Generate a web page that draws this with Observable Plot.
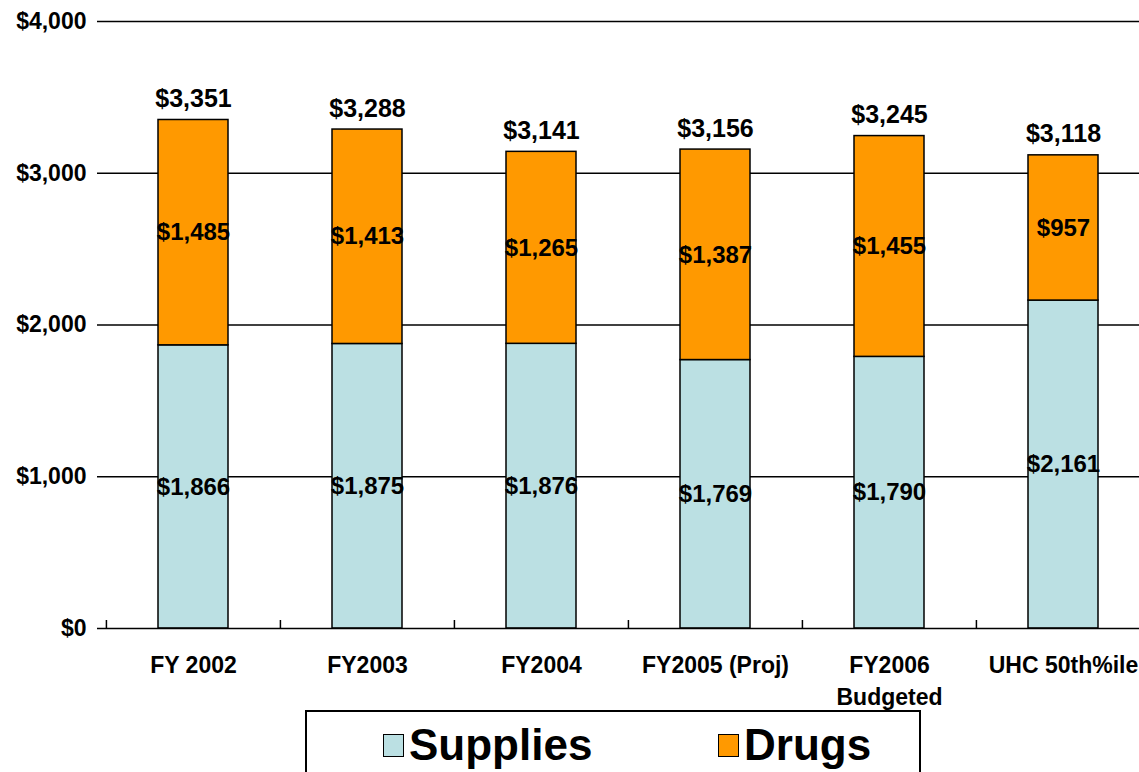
<!DOCTYPE html>
<html>
<head>
<meta charset="utf-8">
<script src="https://cdn.jsdelivr.net/npm/d3@7"></script>
<script src="https://cdn.jsdelivr.net/npm/@observablehq/plot@0.6"></script>
<style>
  html, body { margin: 0; padding: 0; background: #fff; overflow: hidden; }
  body { width: 1139px; height: 772px; position: relative; font-family: "Liberation Sans", Arial, sans-serif; }
  #chart { position: absolute; left: 0; top: 0; width: 1150px; overflow: visible; }
  #chart svg { max-width: none !important; }
  #legend { position: absolute; left: 305px; top: 710px; width: 612px; height: 90px; border: 2px solid #000; background: #fff; }
  .item { position: absolute; top: 8px; font-weight: bold; font-size: 44px; line-height: 50px; display: flex; align-items: center; color: #000; }
  .sw { width: 19px; height: 21px; border: 1.5px solid #000; margin-right: 5px; display: inline-block; }
</style>
</head>
<body>
<div id="chart"></div>
<div id="legend">
  <div class="item" style="left:76px"><span class="sw" style="background:#BBE0E3"></span>Supplies</div>
  <div class="item" style="left:411px"><span class="sw" style="background:#FF9900"></span>Drugs</div>
</div>
<script>
const categories = ["FY 2002", "FY2003", "FY2004", "FY2005 (Proj)", "FY2006\nBudgeted", "UHC 50th%ile"];
const supplies = [1866, 1875, 1876, 1769, 1790, 2161];
const drugs = [1485, 1413, 1265, 1387, 1455, 957];
const totals = [3351, 3288, 3141, 3156, 3245, 3118];
const yTicks = [0, 1000, 2000, 3000, 4000];
const seriesNames = ["Supplies", "Drugs"];
const seriesColors = ["#BBE0E3", "#FF9900"];

const rows = [];
categories.forEach((c, i) => {
  rows.push({cat: c, type: "Supplies", value: supplies[i]});
  rows.push({cat: c, type: "Drugs", value: drugs[i]});
});
const supLabels = categories.map((c, i) => ({cat: c, y: supplies[i] / 2, t: supplies[i]}));
const drugLabels = categories.map((c, i) => ({cat: c, y: supplies[i] + drugs[i] / 2, t: drugs[i]}));
const totLabels = categories.map((c, i) => ({cat: c, y: totals[i], t: totals[i]}));

const fmt = v => "$" + d3.format(",")(v);
const W = 1150, ML = 105, MR = 0;
const step = (W - ML - MR) / categories.length;
const font = "Liberation Sans, Arial, sans-serif";

const chart = Plot.plot({
  width: W,
  height: 705,
  marginLeft: ML,
  marginRight: MR,
  marginTop: 21,
  marginBottom: 77,
  style: {fontFamily: font, background: "transparent", color: "#000", overflow: "visible", maxWidth: "none"},
  x: {domain: categories, paddingInner: 0.6, paddingOuter: 0.3, label: null},
  y: {domain: [0, 4000], label: null},
  color: {domain: seriesNames, range: seriesColors},
  marks: [
    Plot.ruleY(yTicks.slice(1), {stroke: "#000", strokeWidth: 1.5}),
    Plot.barY(rows, {x: "cat", y: "value", fill: "type", stroke: "#000", strokeWidth: 1.5, order: seriesNames}),
    Plot.ruleY([0], {stroke: "#000", strokeWidth: 1.5}),
    Plot.ruleX([0], {frameAnchor: "left", stroke: "#000", strokeWidth: 1.5}),
    Plot.axisY({ticks: yTicks, tickFormat: fmt, tickSize: 8, tickPadding: 11, fontSize: 23, fontWeight: "bold", strokeWidth: 1.5}),
    Plot.axisX({ticks: categories, tickSize: 0, tickPadding: 22, fontSize: 23, fontWeight: "bold", lineHeight: 1.38}),
    Plot.axisX({ticks: categories, tickSize: -8, dx: -step / 2, tickFormat: () => "", strokeWidth: 1.5}),
    Plot.text(supLabels, {x: "cat", y: "y", text: d => fmt(d.t), fontSize: 24, fontWeight: "bold", fill: "#000"}),
    Plot.text(drugLabels, {x: "cat", y: "y", text: d => fmt(d.t), fontSize: 24, fontWeight: "bold", fill: "#000"}),
    Plot.text(totLabels, {x: "cat", y: "y", text: d => fmt(d.t), fontSize: 25, fontWeight: "bold", fill: "#000", dy: -21})
  ]
});
document.getElementById("chart").appendChild(chart);
</script>
</body>
</html>
